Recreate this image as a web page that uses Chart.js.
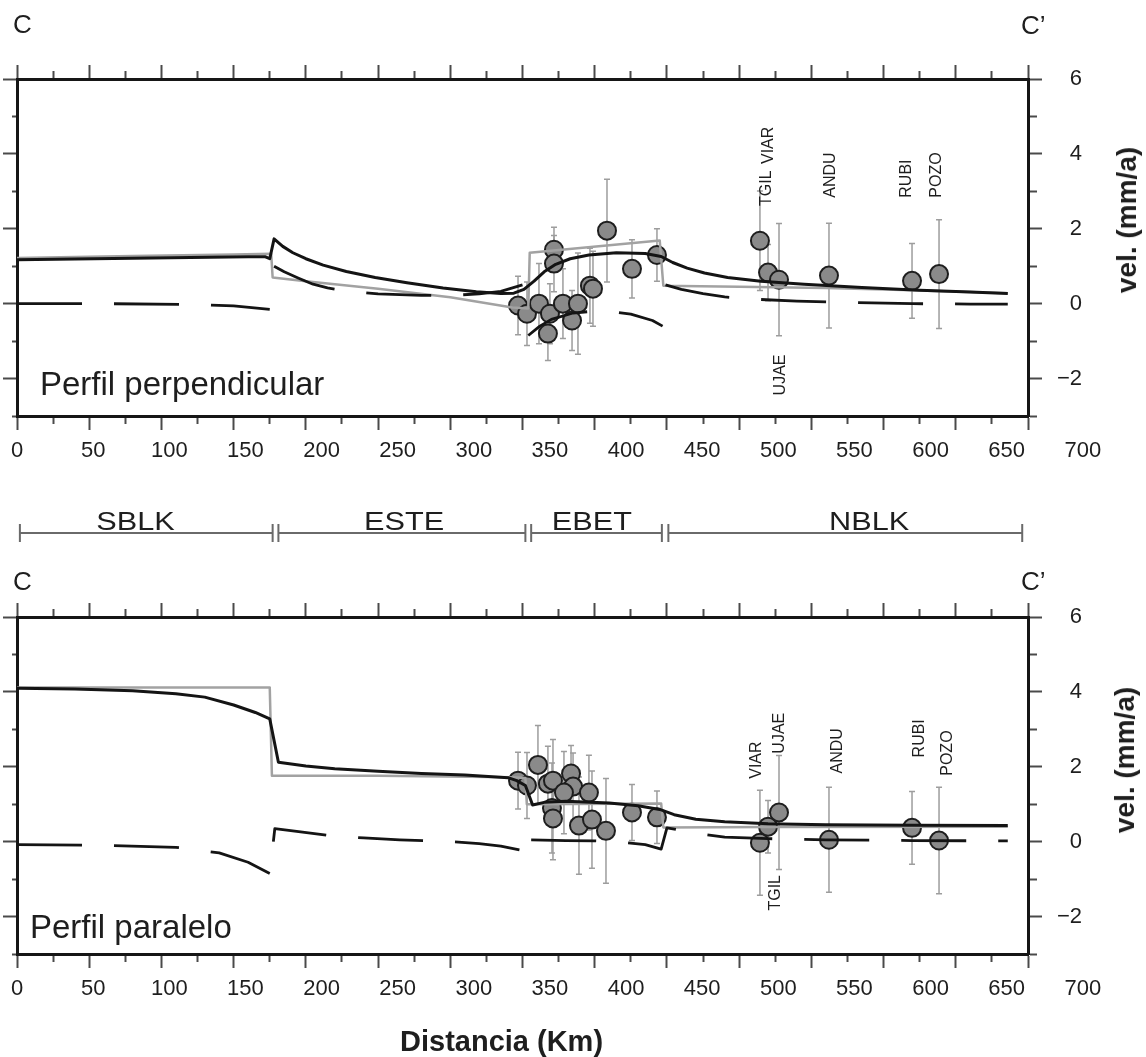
<!DOCTYPE html>
<html>
<head>
<meta charset="utf-8">
<title>Perfiles de velocidad C-C'</title>
<script src="https://cdn.jsdelivr.net/npm/chart.js@4.4.1/dist/chart.umd.min.js"></script>
<style>
  body { margin: 0; background: #fff; font-family: 'Liberation Sans', Arial, sans-serif; color: #1e1e1e; }
  #lienzo { position: relative; width: 1146px; height: 1057px; overflow: hidden; background: #fff; }
  .panel { position: absolute; left: 0; width: 1146px; }
  .txt { position: absolute; white-space: nowrap; line-height: 1; }
  .rot { transform: translate(-50%, -50%) rotate(-90deg); font-weight: bold; font-size: 28px; }
</style>
</head>
<body>
<div id="lienzo">
  <div class="panel" style="top:0;height:560px"><canvas id="grafPerp"></canvas></div>
  <div class="panel" style="top:560px;height:497px"><canvas id="grafPara"></canvas></div>

  <div class="txt" style="left:13px;top:11px;font-size:26px">C</div>
  <div class="txt" style="left:1021px;top:12px;font-size:26px">C’</div>
  <div class="txt" style="left:13px;top:568px;font-size:26px">C</div>
  <div class="txt" style="left:1021px;top:568px;font-size:26px">C’</div>
  <div class="txt" style="left:40px;top:367px;font-size:33px">Perfil perpendicular</div>
  <div class="txt" style="left:30px;top:910px;font-size:33px">Perfil paralelo</div>
  <div class="txt" style="left:400px;top:1027px;font-size:29px;font-weight:bold">Distancia (Km)</div>
  <div class="txt rot" style="left:1127px;top:220px">vel. (mm/a)</div>
  <div class="txt rot" style="left:1125px;top:760px">vel. (mm/a)</div>
</div>

<script>
// ejes
const distTicks = [0, 50, 100, 150, 200, 250, 300, 350, 400, 450, 500, 550, 600, 650, 700];
const velTicks = [-2, 0, 2, 4, 6];

// bloques a lo largo del perfil (km)
const blockNames = ['SBLK', 'ESTE', 'EBET', 'NBLK'];
const blockStart = [2, 181, 356, 451];
const blockEnd = [177, 352, 446.5, 696];
const blockLabelKm = [82, 268, 398, 590];

// perfil perpendicular: modelos
const perpBlackKm = [0, 40, 80, 120, 160, 172, 175, 178, 184, 191, 200, 212, 228, 248, 270, 295, 318, 335, 344, 351, 358, 365, 373, 383, 396, 415, 435, 446, 454, 464, 476, 492, 515, 545, 585, 625, 660, 686];
const perpBlackVel = [1.17, 1.19, 1.21, 1.23, 1.25, 1.25, 1.2, 1.73, 1.53, 1.36, 1.2, 1.03, 0.86, 0.7, 0.56, 0.42, 0.32, 0.27, 0.28, 0.38, 0.6, 0.85, 1.05, 1.2, 1.3, 1.36, 1.34, 1.26, 1.1, 0.95, 0.82, 0.7, 0.6, 0.52, 0.43, 0.36, 0.31, 0.27];
const perpGrayKm = [0, 80, 150, 176, 177, 200, 250, 300, 343, 354, 355, 445, 447.5, 460, 500, 560, 620, 686];
const perpGrayVel = [1.22, 1.27, 1.31, 1.33, 0.7, 0.6, 0.4, 0.17, -0.1, -0.13, 1.36, 1.69, 0.48, 0.47, 0.45, 0.42, 0.36, 0.28];
const perpDashKm = [0, 60, 120, 150, 175, 176, 178, 185, 195, 205, 215, 230, 250, 280, 300, 320, 335, 350, 352, 354, 362, 370, 385, 405, 425, 440, 447, 448, 449, 460, 475, 490, 510, 540, 580, 620, 660, 686];
const perpDashVel = [0, 0, -0.02, -0.06, -0.15, null, 1.0, 0.85, 0.68, 0.52, 0.42, 0.33, 0.26, 0.22, 0.22, 0.26, 0.33, 0.5, null, -0.85, -0.6, -0.42, -0.25, -0.18, -0.28, -0.45, -0.6, null, 0.5, 0.38, 0.27, 0.18, 0.12, 0.07, 0.03, 0.0, -0.01, -0.01];

// perfil perpendicular: estaciones GPS
const perpPointKm = [346.9, 353.1, 361.4, 371.8, 371.8, 367.6, 369.0, 378.0, 384.3, 388.4, 396.7, 398.8, 408.5, 425.8, 443.1, 514.4, 520.0, 527.6, 562.2, 619.7, 638.4];
const perpPointVel = [-0.05, -0.27, 0.0, 1.44, 1.07, -0.8, -0.27, 0.0, -0.45, 0.0, 0.48, 0.4, 1.95, 0.93, 1.3, 1.68, 0.83, 0.64, 0.75, 0.61, 0.79];
const perpPointErr = [0.78, 0.85, 1.07, 0.6, 0.75, 0.72, 0.8, 0.93, 0.8, 1.35, 1.0, 1.0, 1.37, 0.78, 0.7, 1.33, 0.75, 1.5, 1.4, 1.0, 1.45];

// perfil paralelo: modelos
const paraBlackKm = [0, 40, 80, 110, 130, 150, 165, 175, 181, 200, 220, 250, 280, 310, 340, 346, 352, 357, 365, 380, 410, 430, 445, 455, 470, 490, 520, 560, 620, 686];
const paraBlackVel = [4.1, 4.08, 4.03, 3.95, 3.86, 3.65, 3.45, 3.28, 2.12, 2.02, 1.95, 1.88, 1.82, 1.78, 1.71, 1.63, 1.5, 0.98, 1.05, 1.08, 1.03, 0.96, 0.86, 0.72, 0.6, 0.53, 0.48, 0.45, 0.44, 0.43];
const paraGrayKm = [0, 175, 176.5, 250, 343, 352, 353, 446, 447.5, 520, 686];
const paraGrayVel = [4.12, 4.12, 1.76, 1.76, 1.72, 1.7, 1.0, 1.02, 0.38, 0.39, 0.4];
const paraDashKm = [0, 60, 110, 140, 160, 175, 176, 177.5, 178.5, 195, 215, 240, 265, 300, 320, 335, 348, 352, 356, 380, 400, 415, 435, 446, 450, 460, 475, 490, 520, 560, 620, 686];
const paraDashVel = [-0.08, -0.1, -0.15, -0.3, -0.55, -0.85, null, 0.0, 0.35, 0.27, 0.17, 0.1, 0.05, 0.0, -0.05, -0.12, -0.22, null, 0.05, 0.03, 0.02, 0.0, -0.08, -0.2, 0.37, 0.3, 0.2, 0.12, 0.08, 0.05, 0.03, 0.02];

// perfil paralelo: estaciones GPS
const paraPointKm = [346.9, 353.1, 360.7, 367.6, 371.1, 383.6, 385.0, 378.7, 396.0, 370.4, 371.1, 389.1, 398.1, 407.8, 425.8, 443.1, 514.4, 520.0, 527.6, 562.2, 619.7, 638.4];
const paraPointVel = [1.63, 1.5, 2.05, 1.55, 1.63, 1.82, 1.47, 1.31, 1.31, 0.9, 0.62, 0.43, 0.59, 0.29, 0.78, 0.65, -0.03, 0.4, 0.78, 0.05, 0.37, 0.03];
const paraPointErr = [0.76, 0.88, 1.05, 1.0, 1.1, 0.75, 0.9, 1.1, 1.0, 1.2, 1.1, 1.3, 1.3, 1.4, 0.75, 0.7, 1.4, 0.7, 1.52, 1.4, 0.97, 1.42];

// nombres de estaciones y donde va cada rotulo (km, vel)
const perpLabels = { names: ['VIAR', 'TGIL', 'ANDU', 'RUBI', 'POZO', 'UJAE'], km: [520.7, 519.3, 563.6, 616.2, 637, 529], vel: [3.73, 2.61, 2.83, 2.83, 2.83, -2.45] };
const paraLabels = { names: ['VIAR', 'UJAE', 'ANDU', 'RUBI', 'POZO', 'TGIL'], km: [512.4, 528, 568.4, 625, 644, 525], vel: [1.68, 2.35, 1.82, 2.25, 1.76, -1.84] };

const FONT = '"Liberation Sans", Arial, sans-serif';
Chart.defaults.font.family = FONT;
Chart.defaults.color = '#1e1e1e';

const pairs = (km, vel) => km.map((x, i) => ({x, y: vel[i]}));

const frame = { color: '#161616', width: 3 };
const tickGrid = dash => ({
  drawOnChartArea: false, tickLength: 14, tickColor: '#4a4a4a', tickWidth: 2,
  tickBorderDash: dash
});

const ejes = (topH, bottomH) => ({
  x: {
    type: 'linear', position: 'bottom', min: 0, max: 700,
    ticks: { stepSize: 25, display: false },
    grid: tickGrid(c => c.tick.value % 50 ? [6, 100] : []),
    border: frame,
    afterFit: s => { s.height = bottomH; }
  },
  xt: {
    type: 'linear', position: 'top', min: 0, max: 700,
    ticks: { stepSize: 25, display: false },
    grid: tickGrid(c => c.tick.value % 50 ? [0, 6, 8, 100] : []),
    border: frame,
    afterFit: s => { s.height = topH; }
  },
  // escala de las etiquetas de distancia
  xl: { type: 'linear', display: false, min: 0, max: 664 },
  y: {
    type: 'linear', position: 'left', min: -3, max: 6,
    ticks: { stepSize: 1, display: false },
    grid: tickGrid(c => c.tick.value % 2 ? [0, 9, 5, 100] : []),
    border: frame,
    afterFit: s => { s.width = 17; }
  },
  yr: {
    type: 'linear', position: 'right', min: -3, max: 6,
    ticks: {
      stepSize: 1, autoSkip: false, padding: 15, crossAlign: 'far',
      font: { size: 22, family: FONT }, color: '#1e1e1e',
      callback: v => velTicks.includes(v) ? (v < 0 ? '\u2212' + (-v) : String(v)) : ''
    },
    grid: tickGrid(c => c.tick.value % 2 ? [7, 100] : []),
    border: frame,
    afterFit: s => { s.width = 54; }
  }
});

const etiquetasDistancia = {
  id: 'etiquetasDistancia',
  afterDraw(chart) {
    const {ctx, chartArea, scales: {xl}} = chart;
    ctx.save();
    ctx.font = '22px ' + FONT;
    ctx.fillStyle = '#1e1e1e';
    ctx.textAlign = 'center';
    ctx.textBaseline = 'middle';
    distTicks.forEach(v => ctx.fillText(String(v), xl.getPixelForValue(v), chartArea.bottom + 35));
    ctx.restore();
  }
};

const barrasError = (km, vel, err) => ({
  id: 'barrasError',
  beforeDatasetsDraw(chart) {
    const {ctx, scales: {x, y}} = chart;
    ctx.save();
    ctx.strokeStyle = '#9d9d9d';
    ctx.lineWidth = 1.5;
    km.forEach((k, i) => {
      const px = x.getPixelForValue(k);
      const top = y.getPixelForValue(vel[i] + err[i]);
      const bot = y.getPixelForValue(vel[i] - err[i]);
      ctx.beginPath();
      ctx.moveTo(px, top); ctx.lineTo(px, bot);
      ctx.moveTo(px - 3, top); ctx.lineTo(px + 3, top);
      ctx.moveTo(px - 3, bot); ctx.lineTo(px + 3, bot);
      ctx.stroke();
    });
    ctx.restore();
  }
});

const rotulosEstaciones = lab => ({
  id: 'rotulosEstaciones',
  afterDatasetsDraw(chart) {
    const {ctx, scales: {x, y}} = chart;
    ctx.save();
    ctx.font = '16px ' + FONT;
    ctx.fillStyle = '#1e1e1e';
    ctx.textAlign = 'left';
    ctx.textBaseline = 'middle';
    lab.names.forEach((n, i) => {
      ctx.save();
      ctx.translate(x.getPixelForValue(lab.km[i]), y.getPixelForValue(lab.vel[i]));
      ctx.rotate(-Math.PI / 2);
      ctx.fillText(n, 0, 0);
      ctx.restore();
    });
    ctx.restore();
  }
});

const barraBloques = {
  id: 'barraBloques',
  afterDraw(chart) {
    const {ctx, chartArea, scales: {x}} = chart;
    const y0 = chartArea.bottom + 117;
    ctx.save();
    ctx.strokeStyle = '#6a6a6a';
    ctx.lineWidth = 2;
    ctx.fillStyle = '#1e1e1e';
    ctx.font = '26px ' + FONT;
    ctx.textAlign = 'center';
    ctx.textBaseline = 'alphabetic';
    blockNames.forEach((name, i) => {
      const a = x.getPixelForValue(blockStart[i]);
      const b = x.getPixelForValue(blockEnd[i]);
      ctx.beginPath();
      ctx.moveTo(a, y0); ctx.lineTo(b, y0);
      ctx.moveTo(a, y0 - 9); ctx.lineTo(a, y0 + 9);
      ctx.moveTo(b, y0 - 9); ctx.lineTo(b, y0 + 9);
      ctx.stroke();
      // rotulo algo ensanchado
      ctx.save();
      ctx.translate(x.getPixelForValue(blockLabelKm[i]), y0 - 3);
      ctx.scale(1.18, 1);
      ctx.fillText(name, 0, 0);
      ctx.restore();
    });
    ctx.restore();
  }
};

const linea = (data, color, width, dash, order) => ({
  data, showLine: true, borderColor: color, borderWidth: width, borderDash: dash,
  borderJoinStyle: 'round', pointRadius: 0, order
});

const crearPerfil = (id, m, lab, topH, bottomH, extra) => new Chart(document.getElementById(id), {
  type: 'scatter',
  data: {
    datasets: [
      linea(pairs(m.blackKm, m.blackVel), '#141414', 3, [], 0),
      linea(pairs(m.dashKm, m.dashVel), '#141414', 2.8, [65, 32], 1),
      linea(pairs(m.grayKm, m.grayVel), '#a2a2a2', 2.5, [], 2),
      {
        data: pairs(m.ptKm, m.ptVel), order: 3,
        pointRadius: 9, pointBackgroundColor: '#8a8a8a',
        pointBorderColor: '#1e1e1e', pointBorderWidth: 2
      }
    ]
  },
  options: {
    animation: false, events: [], responsive: true, maintainAspectRatio: false,
    layout: { padding: { right: 64 } },
    plugins: { legend: { display: false }, tooltip: { enabled: false } },
    scales: ejes(topH, bottomH)
  },
  plugins: [barrasError(m.ptKm, m.ptVel, m.ptErr), rotulosEstaciones(lab), etiquetasDistancia].concat(extra)
});

crearPerfil('grafPerp', {
  blackKm: perpBlackKm, blackVel: perpBlackVel, grayKm: perpGrayKm, grayVel: perpGrayVel,
  dashKm: perpDashKm, dashVel: perpDashVel, ptKm: perpPointKm, ptVel: perpPointVel, ptErr: perpPointErr
}, perpLabels, 79, 144, [barraBloques]);

crearPerfil('grafPara', {
  blackKm: paraBlackKm, blackVel: paraBlackVel, grayKm: paraGrayKm, grayVel: paraGrayVel,
  dashKm: paraDashKm, dashVel: paraDashVel, ptKm: paraPointKm, ptVel: paraPointVel, ptErr: paraPointErr
}, paraLabels, 57, 103, []);
</script>
</body>
</html>
